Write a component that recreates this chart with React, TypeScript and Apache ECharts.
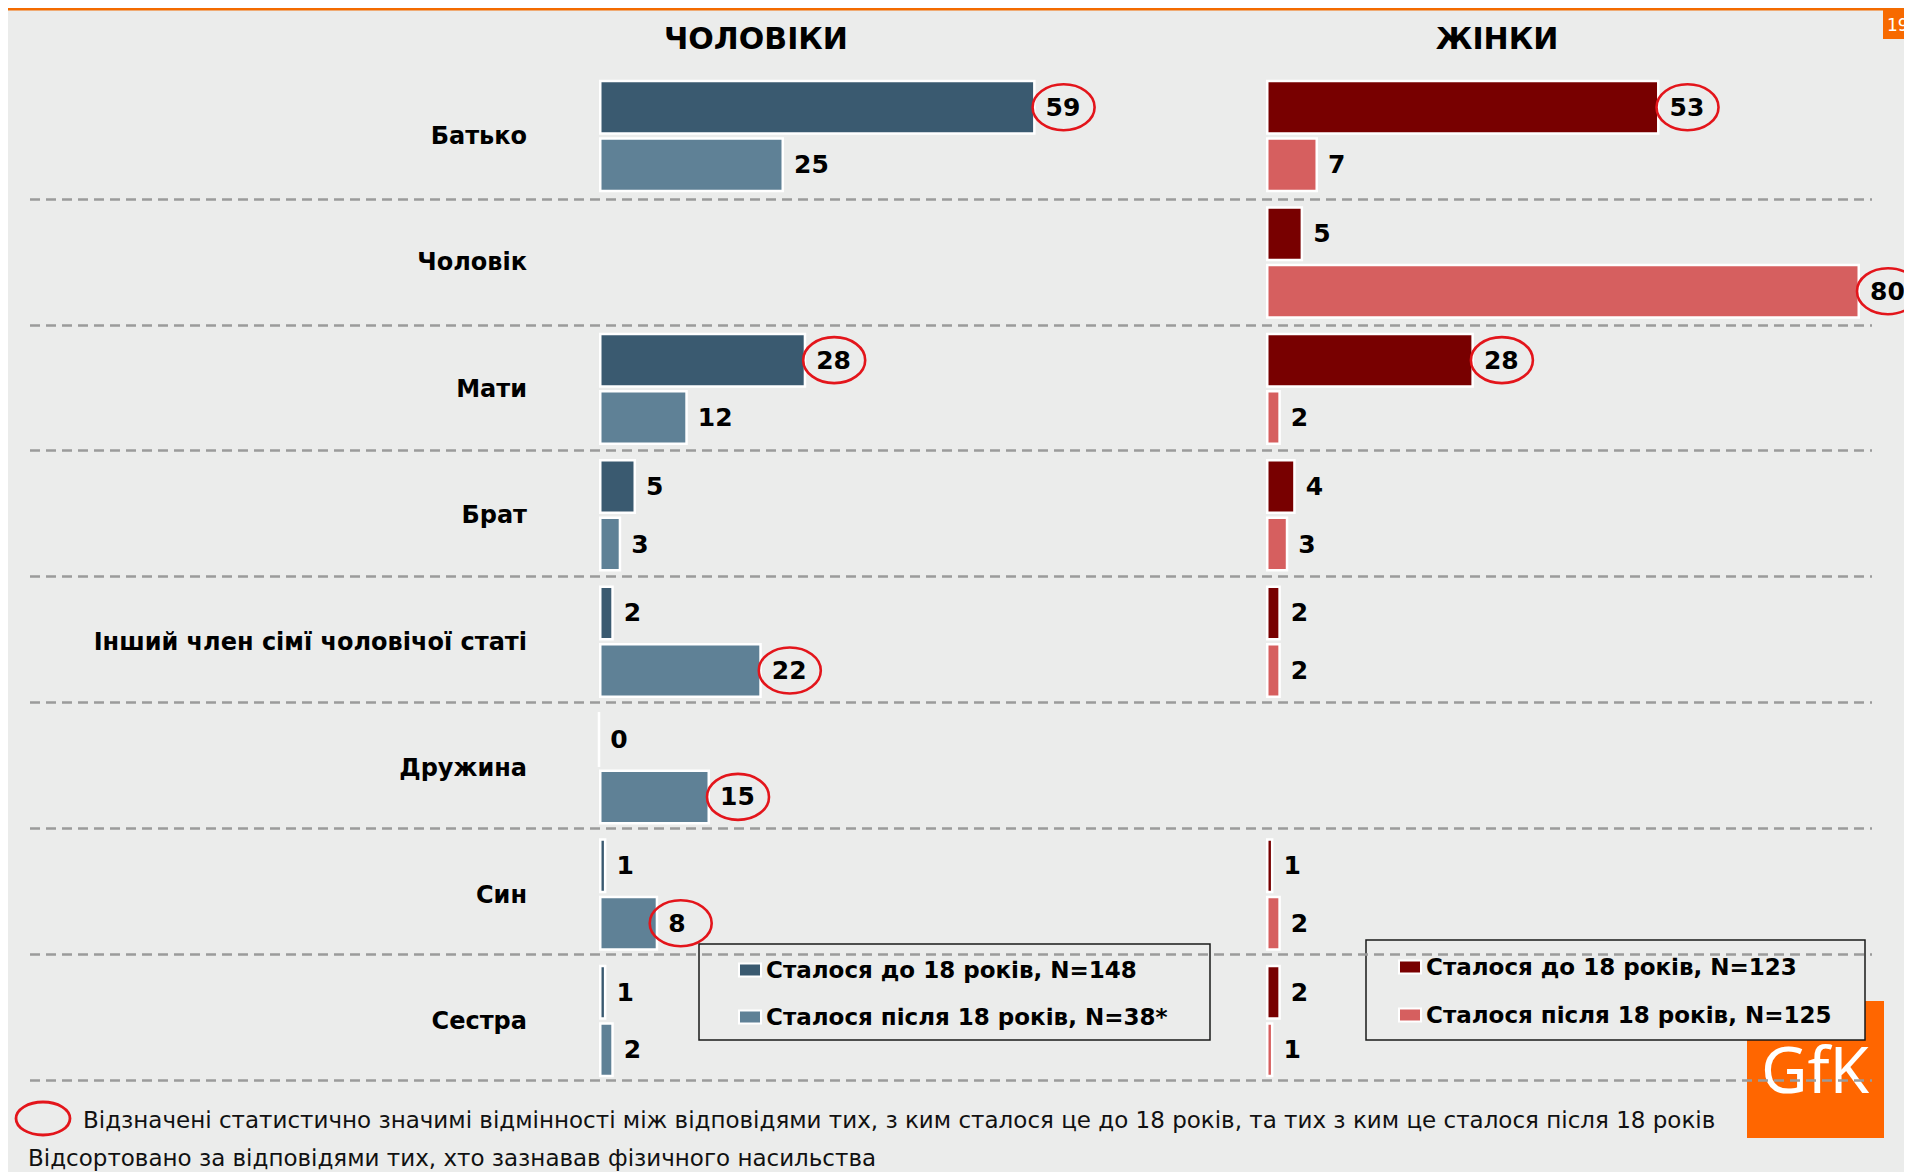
import React, { useEffect, useRef } from 'react';
import * as echarts from 'echarts';

// ---------- data ----------
const categories = [
  'Батько',
  'Чоловік',
  'Мати',
  'Брат',
  'Інший член сімї чоловічої статі',
  'Дружина',
  'Син',
  'Сестра',
];
const menBefore = [59, null, 28, 5, 2, 0, 1, 1];
const menAfter = [25, null, 12, 3, 22, 15, 8, 2];
const womenBefore = [53, 5, 28, 4, 2, null, 1, 2];
const womenAfter = [7, 80, 2, 3, 2, null, 2, 1];

// statistically significant differences (circled values)
const menBeforeSig = [true, false, true, false, false, false, false, false];
const menAfterSig = [false, false, false, false, true, true, true, false];
const womenBeforeSig = [true, false, true, false, false, false, false, false];
const womenAfterSig = [false, true, false, false, false, false, false, false];

const panelTitles = ['ЧОЛОВІКИ', 'ЖІНКИ'];
const menLegend = ['Сталося до 18 років, N=148', 'Сталося після 18 років, N=38*'];
const womenLegend = ['Сталося до 18 років, N=123', 'Сталося після 18 років, N=125'];
const footnotes = [
  'Відзначені статистично значимі відмінності між відповідями тих, з ким сталося це до 18 років, та тих з ким це сталося після 18 років',
  'Відсортовано за відповідями тих, хто зазнавав фізичного насильства',
];
const pageNumber = '19';
const logoText = 'GfK';

// ---------- style ----------
const FONT = "'DejaVu Sans', Verdana, sans-serif";
const BG = '#EBECEB';
const MEN_DARK = '#3A5A70';
const MEN_LIGHT = '#5F8196';
const WOMEN_DARK = '#780000';
const WOMEN_LIGHT = '#D65F5F';
const RED = '#E3151B';
const ORANGE = '#FF6600';
const BAR_W = 55;
const BAR_GAP = 0.045;
const HALF = (BAR_W * (1 + BAR_GAP)) / 2;

function sigData(values: (number | null)[], flags: boolean[]) {
  const out: number[][] = [];
  values.forEach((v, i) => {
    if (flags[i] && v != null) out.push([v, i]);
  });
  return out;
}

function barSeries(name: string, data: (number | null)[], color: string, idx: number) {
  return {
    type: 'bar',
    name,
    data,
    xAxisIndex: idx,
    yAxisIndex: idx,
    barWidth: BAR_W,
    barGap: BAR_GAP * 100 + '%',
    z: 3,
    itemStyle: { color, borderColor: '#FFFFFF', borderWidth: 2.5 },
    label: {
      show: true,
      position: 'right',
      distance: 10,
      color: '#000',
      fontFamily: FONT,
      fontWeight: 'bold',
      fontSize: 25,
    },
  };
}

function ellipseSeries(data: number[][], idx: number, slot: number) {
  return {
    type: 'custom',
    xAxisIndex: idx,
    yAxisIndex: idx,
    silent: true,
    z: 6,
    clip: false,
    encode: { x: 0, y: 1 },
    data,
    renderItem: (_params: any, api: any) => {
      const v = api.value(0);
      const c = api.value(1);
      const p = api.coord([v, c]);
      const digits = String(v).length;
      return {
        type: 'ellipse',
        shape: {
          cx: p[0] + 17 + 5.5 * digits,
          cy: p[1] + (slot === 0 ? -HALF : HALF),
          rx: 31,
          ry: 23,
        },
        style: { fill: 'none', stroke: RED, lineWidth: 2.6 },
      };
    },
  };
}

const legendText = {
  fontFamily: FONT,
  fontWeight: 'bold',
  fontSize: 23,
  color: '#000',
  lineHeight: 30,
};

export default function App() {
  const ref = useRef<HTMLDivElement>(null);

  useEffect(() => {
    if (!ref.current) return;
    const chart = echarts.init(ref.current, undefined, { renderer: 'svg' });
    const option: any = {
      animation: false,
      backgroundColor: BG,
      grid: [
        { left: 591, top: 64.8, width: 444, height: 1011.4 },
        { left: 1258, top: 64.8, width: 594, height: 1011.4 },
        { left: 22, top: 191, width: 1842, height: 881 },
      ],
      xAxis: [
        { gridIndex: 0, type: 'value', min: 0, max: 60, show: false },
        { gridIndex: 1, type: 'value', min: 0, max: 80, show: false },
        { gridIndex: 2, type: 'value', min: 0, max: 1, show: false },
      ],
      yAxis: [
        {
          gridIndex: 0,
          type: 'category',
          data: categories,
          inverse: true,
          axisLine: { show: false },
          axisTick: { show: false },
          splitLine: { show: false },
          axisLabel: {
            margin: 72,
            color: '#000',
            fontFamily: FONT,
            fontWeight: 'bold',
            fontSize: 24,
          },
        },
        {
          gridIndex: 1,
          type: 'category',
          data: categories,
          inverse: true,
          axisLine: { show: false },
          axisTick: { show: false },
          axisLabel: { show: false },
          splitLine: { show: false },
        },
        {
          gridIndex: 2,
          type: 'value',
          min: 1,
          max: 8,
          interval: 1,
          z: 2,
          axisLine: { show: false },
          axisTick: { show: false },
          axisLabel: { show: false },
          splitLine: {
            show: true,
            lineStyle: { color: '#9B9B9B', width: 2.5, type: [10, 6] },
          },
        },
      ],
      legend: [
        {
          data: menLegend,
          left: 730,
          top: 947,
          orient: 'vertical',
          padding: 0,
          itemGap: 17,
          itemWidth: 22,
          itemHeight: 13,
          icon: 'rect',
          selectedMode: false,
          textStyle: legendText,
          z: 8,
        },
        {
          data: womenLegend,
          left: 1390,
          top: 944,
          orient: 'vertical',
          padding: 0,
          itemGap: 18,
          itemWidth: 22,
          itemHeight: 13,
          icon: 'rect',
          selectedMode: false,
          textStyle: legendText,
          z: 8,
        },
      ],
      series: [
        barSeries(menLegend[0], menBefore, MEN_DARK, 0),
        barSeries(menLegend[1], menAfter, MEN_LIGHT, 0),
        barSeries(womenLegend[0], womenBefore, WOMEN_DARK, 1),
        barSeries(womenLegend[1], womenAfter, WOMEN_LIGHT, 1),
        ellipseSeries(sigData(menBefore, menBeforeSig), 0, 0),
        ellipseSeries(sigData(menAfter, menAfterSig), 0, 1),
        ellipseSeries(sigData(womenBefore, womenBeforeSig), 1, 0),
        ellipseSeries(sigData(womenAfter, womenAfterSig), 1, 1),
      ],
      graphic: [
        // top orange rule & page number
        { type: 'rect', z: 1, shape: { x: 0, y: 0, width: 1904, height: 2.5 }, style: { fill: '#F36B00' } },
        { type: 'rect', z: 1, shape: { x: 1875, y: 2, width: 40, height: 29 }, style: { fill: '#F76A00' } },
        {
          type: 'text', z: 1, x: 1879, y: 17,
          style: { text: pageNumber, fill: '#FFFFFF', fontSize: 17, fontFamily: FONT, verticalAlign: 'middle' },
        },
        // GfK logo
        { type: 'rect', z: 0, shape: { x: 1739, y: 993, width: 137, height: 137 }, style: { fill: ORANGE } },
        {
          type: 'text', z: 0, x: 1807, y: 1060,
          style: { text: logoText, fill: '#FFFFFF', fontSize: 64, fontFamily: "'Noto Sans', sans-serif", align: 'center', verticalAlign: 'middle' },
        },
        // legend frames
        { type: 'rect', z: 1, shape: { x: 691, y: 936, width: 511, height: 96 }, style: { fill: BG, stroke: '#1A1A1A', lineWidth: 1.5 } },
        { type: 'rect', z: 1, shape: { x: 1358, y: 932, width: 499, height: 100 }, style: { fill: BG, stroke: '#1A1A1A', lineWidth: 1.5 } },
        // panel titles
        {
          type: 'text', z: 1, x: 748, y: 30,
          style: { text: panelTitles[0], fill: '#000', fontSize: 30, fontWeight: 'bold', fontFamily: FONT, align: 'center', verticalAlign: 'middle' },
        },
        {
          type: 'text', z: 1, x: 1489, y: 30,
          style: { text: panelTitles[1], fill: '#000', fontSize: 30, fontWeight: 'bold', fontFamily: FONT, align: 'center', verticalAlign: 'middle' },
        },
        // footnotes
        { type: 'ellipse', z: 1, shape: { cx: 35, cy: 1110.5, rx: 27, ry: 16.5 }, style: { fill: 'none', stroke: RED, lineWidth: 2.8 } },
        {
          type: 'text', z: 1, x: 75, y: 1112,
          style: { text: footnotes[0], fill: '#111', fontSize: 23, fontFamily: FONT, verticalAlign: 'middle' },
        },
        {
          type: 'text', z: 1, x: 20, y: 1150,
          style: { text: footnotes[1], fill: '#111', fontSize: 23, fontFamily: FONT, verticalAlign: 'middle' },
        },
      ],
    };
    chart.setOption(option);
    return () => chart.dispose();
  }, []);

  return <div ref={ref} style={{ width: 1904, height: 1164, background: BG }} />;
}
